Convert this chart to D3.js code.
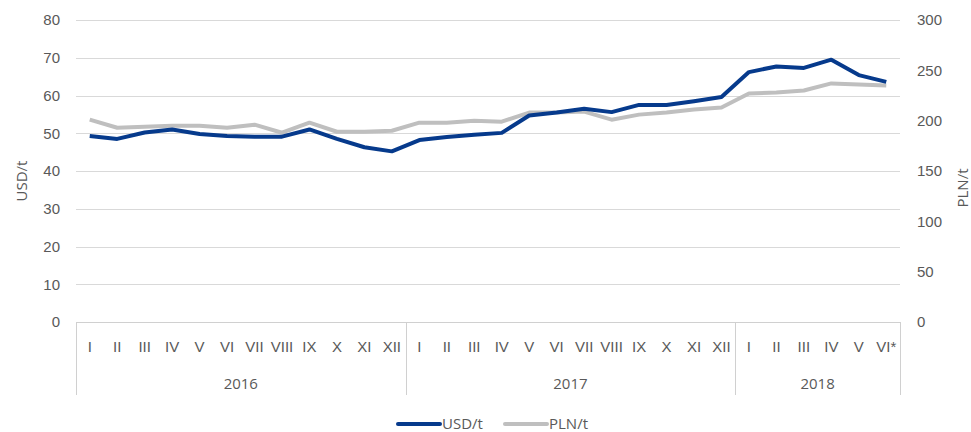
<!DOCTYPE html>
<html lang="pl">
<head>
  <meta charset="UTF-8">
  <title>USD/t PLN/t</title>
  <style>
    html, body { margin: 0; padding: 0; background: #fff; }
    svg { display: block; font-family: "Open Sans", "Noto Sans", sans-serif; }
    .axis path, .axis line { display: none; }
    .axis text { font-size: 15px; fill: #595959; }
    .grid { stroke: #d9d9d9; stroke-width: 1; }
    .box { stroke: #d0d0d0; stroke-width: 1; }
    .lbl { font-size: 15px; fill: #595959; }
  </style>
  <script src="https://cdn.jsdelivr.net/npm/d3@7"></script>
</head>
<body>
<script>
  // dane
  const months = ['I','II','III','IV','V','VI','VII','VIII','IX','X','XI','XII'];
  const years = ['2016', '2017', '2018'];
  const monthsInYear = [12, 12, 6];
  const lastLabel = 'VI*';
  const usd = [49.3, 48.5, 50.2, 51.0, 49.8, 49.3, 49.1, 49.1, 51.0, 48.5, 46.3, 45.2,
               48.2, 49.0, 49.6, 50.1, 54.7, 55.5, 56.5, 55.6, 57.5, 57.5, 58.5, 59.6,
               66.2, 67.7, 67.3, 69.5, 65.4, 63.6];
  const pln = [201, 193, 194, 195, 195, 193, 196, 188, 198, 189, 189, 190,
               198, 198, 200, 199, 208, 208, 209, 201, 206, 208, 211, 213,
               227, 228, 230, 237, 236, 235];
  const leftTicks = [0, 10, 20, 30, 40, 50, 60, 70, 80];
  const rightTicks = [0, 50, 100, 150, 200, 250, 300];

  const width = 971, height = 432;
  const plotLeft = 76, plotRight = 900, plotTop = 20, plotBottom = 322;
  const boxBottom = 395;

  // kategorie
  const cats = [];
  years.forEach((y, i) => {
    for (let m = 0; m < monthsInYear[i]; m++) {
      const isLast = i === years.length - 1 && m === monthsInYear[i] - 1;
      cats.push({ key: y + '-' + m, year: y, label: isLast ? lastLabel : months[m] });
    }
  });

  const x = d3.scaleBand().domain(cats.map(d => d.key)).range([plotLeft, plotRight]).padding(0);
  const yL = d3.scaleLinear().domain([0, 80]).range([plotBottom, plotTop]);
  const yR = d3.scaleLinear().domain([0, 300]).range([plotBottom, plotTop]);

  const svg = d3.select('body').append('svg')
    .attr('width', width)
    .attr('height', height);

  // siatka
  svg.append('g').selectAll('line')
    .data(leftTicks.filter(d => d > 0))
    .enter().append('line')
    .attr('class', 'grid')
    .attr('x1', plotLeft).attr('x2', plotRight)
    .attr('y1', d => Math.round(yL(d)) + 0.5)
    .attr('y2', d => Math.round(yL(d)) + 0.5);

  // osie Y
  svg.append('g')
    .attr('class', 'axis')
    .attr('transform', `translate(${plotLeft},0)`)
    .call(d3.axisLeft(yL).tickValues(leftTicks).tickSize(0).tickPadding(16));

  svg.append('g')
    .attr('class', 'axis')
    .attr('transform', `translate(${plotRight},0)`)
    .call(d3.axisRight(yR).tickValues(rightTicks).tickSize(0).tickPadding(17));

  svg.append('text')
    .attr('class', 'lbl')
    .attr('text-anchor', 'middle')
    .attr('transform', `translate(27,${(plotTop + plotBottom) / 2 + 10}) rotate(-90)`)
    .text('USD/t');

  svg.append('text')
    .attr('class', 'lbl')
    .attr('text-anchor', 'middle')
    .attr('transform', `translate(968,${(plotTop + plotBottom) / 2 + 17}) rotate(-90)`)
    .text('PLN/t');

  // os X - miesiace
  const labelOf = {};
  cats.forEach(d => { labelOf[d.key] = d.label; });
  svg.append('g')
    .attr('class', 'axis')
    .attr('transform', `translate(0,${plotBottom})`)
    .call(d3.axisBottom(x).tickSize(0).tickPadding(19).tickFormat(k => labelOf[k]));

  // ramka i lata
  const box = svg.append('g');
  box.append('line')
    .attr('class', 'box')
    .attr('x1', plotLeft).attr('x2', plotRight)
    .attr('y1', plotBottom + 0.5).attr('y2', plotBottom + 0.5);

  const groups = years.map(y => {
    const ks = cats.filter(d => d.year === y).map(d => d.key);
    return { year: y, x0: x(ks[0]), x1: x(ks[ks.length - 1]) + x.bandwidth() };
  });
  const edges = [groups[0].x0].concat(groups.map(g => g.x1));
  box.selectAll('.edge')
    .data(edges)
    .enter().append('line')
    .attr('class', 'box')
    .attr('x1', d => Math.round(d) + 0.5).attr('x2', d => Math.round(d) + 0.5)
    .attr('y1', plotBottom).attr('y2', boxBottom);

  svg.append('g').selectAll('text')
    .data(groups)
    .enter().append('text')
    .attr('class', 'lbl')
    .attr('text-anchor', 'middle')
    .attr('x', d => (d.x0 + d.x1) / 2)
    .attr('y', 389)
    .text(d => d.year);

  // linie
  const cx = (d, i) => x(cats[i].key) + x.bandwidth() / 2;
  svg.append('path')
    .datum(pln)
    .attr('fill', 'none')
    .attr('stroke', '#bfbfbf')
    .attr('stroke-width', 4)
    .attr('stroke-linejoin', 'round')
    .attr('d', d3.line().x(cx).y(d => yR(d)));

  svg.append('path')
    .datum(usd)
    .attr('fill', 'none')
    .attr('stroke', '#063a8c')
    .attr('stroke-width', 4)
    .attr('stroke-linejoin', 'round')
    .attr('d', d3.line().x(cx).y(d => yL(d)));

  // legenda
  const legend = [
    { name: 'USD/t', color: '#063a8c', x: 398 },
    { name: 'PLN/t', color: '#bfbfbf', x: 505 }
  ];
  const lg = svg.append('g').selectAll('g')
    .data(legend)
    .enter().append('g')
    .attr('transform', d => `translate(${d.x},424)`);
  lg.append('line')
    .attr('x1', 0).attr('x2', 42)
    .attr('stroke', d => d.color)
    .attr('stroke-width', 4)
    .attr('stroke-linecap', 'round');
  lg.append('text')
    .attr('class', 'lbl')
    .attr('x', 44)
    .attr('y', 5)
    .text(d => d.name);
</script>
</body>
</html>
